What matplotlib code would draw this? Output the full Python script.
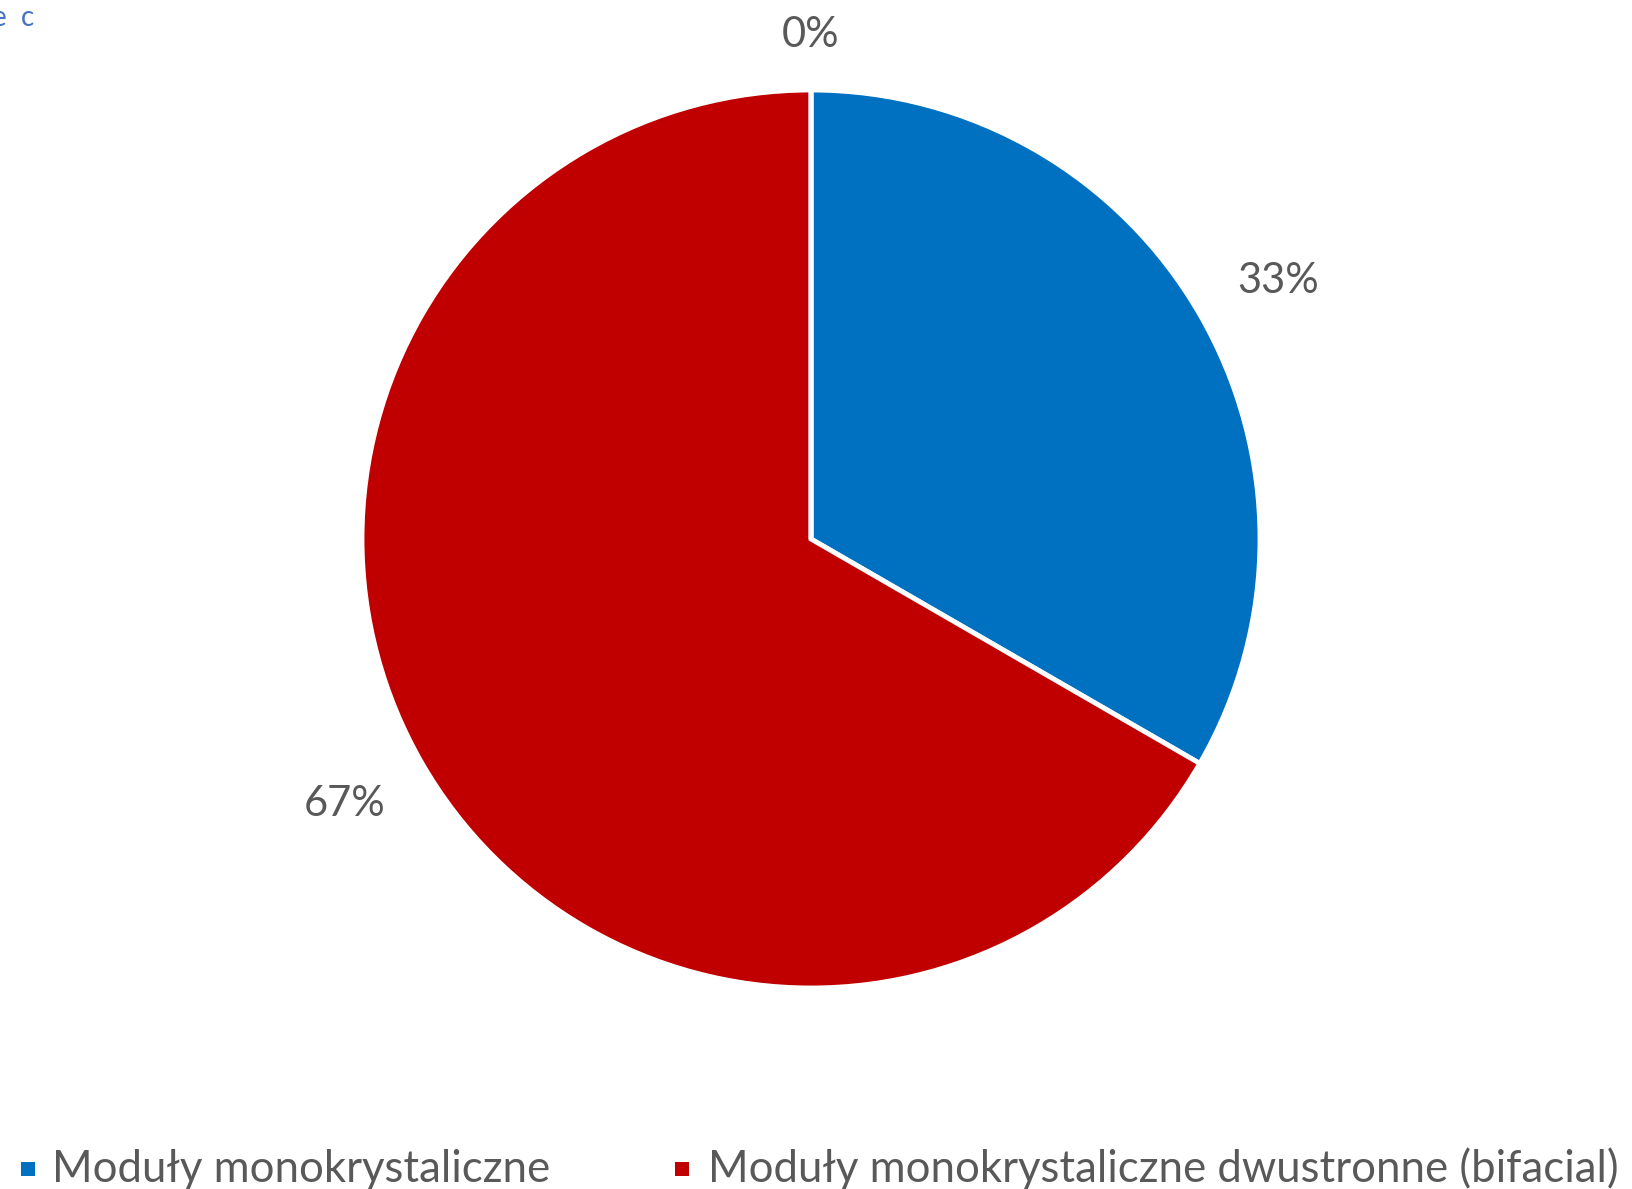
import numpy as np
import matplotlib
matplotlib.use("Agg")
import matplotlib.pyplot as plt
from matplotlib.patches import Rectangle

categories = ["Moduły monokrystaliczne",
              "Moduły monokrystaliczne dwustronne (bifacial)",
              "Inne"]
values = [1, 2, 0]
colors = ["#0070C0", "#C00000", "#A5A5A5"]

plt.rcParams["font.family"] = ["Lato", "DejaVu Sans"]

W, H = 1632, 1189
fig = plt.figure(figsize=(W / 100, H / 100), dpi=100)
fig.patch.set_facecolor("white")

cx, cy, r = 811, 539, 449
ax = fig.add_axes([(cx - r) / W, (H - cy - r) / H, 2 * r / W, 2 * r / H])
wedges, _ = ax.pie(values, colors=colors, startangle=90, counterclock=False,
                   radius=1.0, wedgeprops=dict(edgecolor="white", linewidth=3.5))
ax.set_xlim(-1, 1)
ax.set_ylim(-1, 1)
ax.set_aspect("auto")
ax.axis("off")

# data labels placed outside the wedge ends, anchored by their nearest corner
total = sum(values)
for w, v in zip(wedges, values):
    mid = np.deg2rad((w.theta1 + w.theta2) / 2)
    c, s = np.cos(mid), np.sin(mid)
    ha = "center" if abs(c) < 0.2 else ("left" if c > 0 else "right")
    va = "center" if abs(s) < 0.2 else ("baseline" if s > 0 else "top")
    ax.text(1.095 * c, 1.095 * s, f"{round(100 * v / total)}%",
            ha=ha, va=va, fontsize=30, color="#595959", clip_on=False)

# partially visible caption at the top-left corner
fig.text(-0.005, 1 - 18 / H, "e  c", fontsize=20, color="#4472C4",
         ha="left", va="center")

# legend row along the bottom edge
legend_y = 1169
entries = [(28, 52), (682, 708)]
for (mx, tx), name, col in zip(entries, categories[:2], colors[:2]):
    s = 14
    fig.patches.append(Rectangle(((mx - s / 2) / W, (H - legend_y - s / 2) / H), s / W, s / H,
                                 transform=fig.transFigure, facecolor=col, edgecolor="none"))
    fig.text(tx / W, (H - legend_y) / H, name, fontsize=31.5, color="#595959",
             ha="left", va="center")

fig.savefig("out.png", dpi=100, facecolor="white")
